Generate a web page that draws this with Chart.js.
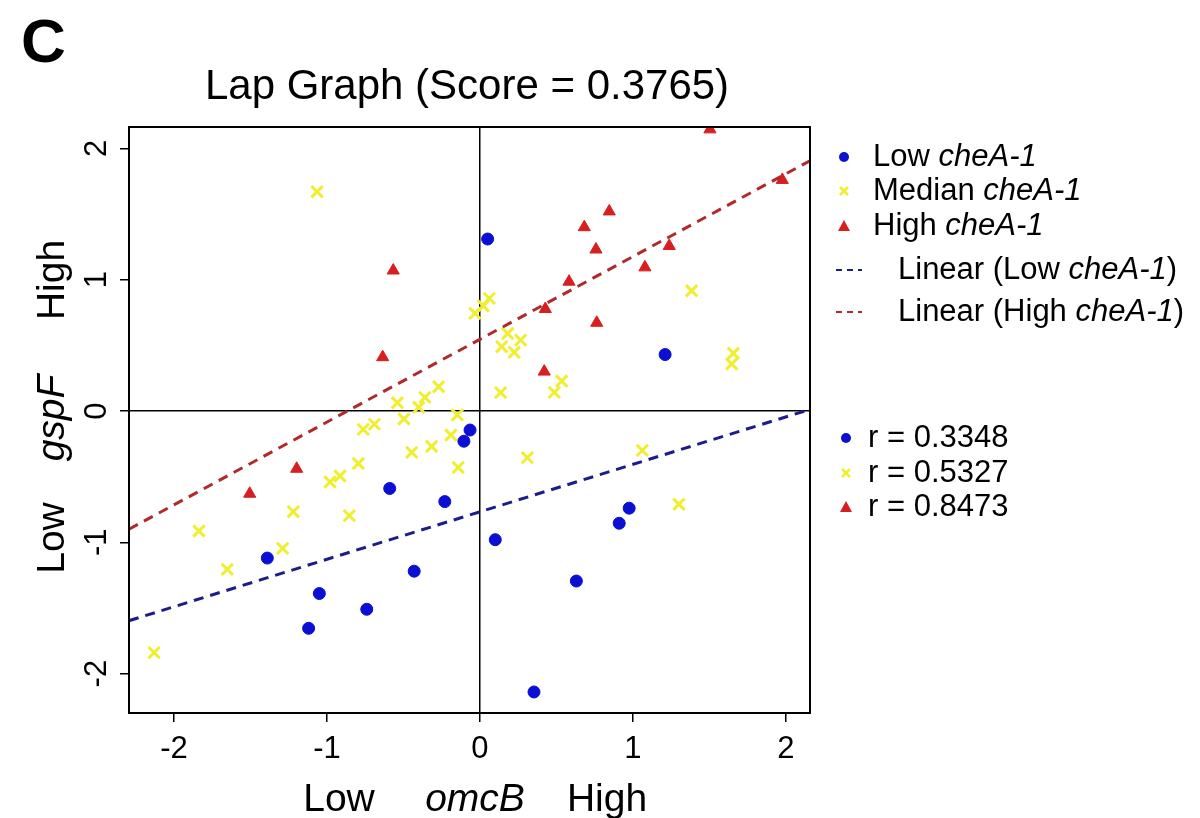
<!DOCTYPE html>
<html>
<head>
<meta charset="utf-8">
<script src="https://cdn.jsdelivr.net/npm/chart.js@4.4.1/dist/chart.umd.min.js"></script>
<style>
  html, body { margin: 0; padding: 0; background: #fff; }
</style>
</head>
<body>
<canvas id="lapChart" width="1200" height="818"></canvas>
<script>
// values
const lowX = [0.05, 1.21, -0.065, -0.105, -0.59, -0.23, -1.39, -0.43, -1.05, -0.74, -1.12, 0.10, 0.63, 0.91, 0.975, 0.353];
const lowY = [1.31, 0.43, -0.145, -0.23, -0.59, -0.69, -1.12, -1.22, -1.39, -1.51, -1.655, -0.98, -1.295, -0.855, -0.74, -2.14];

const medX = [-1.065, -0.033, 0.022, 0.061, 1.383, 0.181, 0.266, 0.142, 0.224, 1.656, 1.645, 0.534, 0.135, 0.486,
  -0.27, -0.36, -0.54, -0.40, -0.148, -0.497, -0.69, -0.763, -0.19, -0.316, -0.446, -0.142, -0.795, -0.915, -0.98,
  -1.22, -0.854, -1.837, -1.29, -1.652, -2.13, 0.31, 1.061, 1.30];
const medY = [1.67, 0.744, 0.80, 0.858, 0.916, 0.59, 0.54, 0.49, 0.447, 0.44, 0.358, 0.228, 0.14, 0.142,
  0.185, 0.104, 0.063, 0.028, -0.03, -0.061, -0.10, -0.14, -0.183, -0.27, -0.315, -0.43, -0.40, -0.495, -0.54,
  -0.767, -0.797, -0.914, -1.046, -1.206, -1.84, -0.355, -0.30, -0.71];

const highX = [-0.567, -0.636, 1.503, 1.976, 0.845, 0.682, 0.758, 1.237, 1.078, 0.582, 0.427, 0.763, 0.42, -1.198, -1.505];
const highY = [1.07, 0.41, 2.145, 1.76, 1.52, 1.40, 1.23, 1.257, 1.094, 0.985, 0.777, 0.672, 0.30, -0.44, -0.63];

// trend line end points (left and right edge of the plot)
const lowFitX = [-2.294, 2.157];
const lowFitY = [-1.597, 0.012];
const highFitX = [-2.294, 2.157];
const highFitY = [-0.90, 1.906];

const xTicks = [-2, -1, 0, 1, 2];
const yTicks = [-2, -1, 0, 1, 2];
const rValues = ['0.3348', '0.5327', '0.8473'];

const BLUE = '#0a0fd2';
const YELLOW = '#f0ee2e';
const RED = '#d81e1e';
const BLUE_LINE = '#1c1c8a';
const RED_LINE = '#b02a2a';
const FONT = 'Arial, "Liberation Sans", sans-serif';

function toPoints(xs, ys) {
    return xs.map((x, i) => ({ x: x, y: ys[i] }));
}

// draws a row of text pieces, some of them italic
function drawPieces(ctx, pieces, x, y, size) {
    let cx = x;
    pieces.forEach(p => {
        ctx.font = (p.italic ? 'italic ' : '') + size + 'px ' + FONT;
        ctx.fillText(p.text, cx, y);
        cx += ctx.measureText(p.text).width;
    });
}

function drawMarker(ctx, kind, x, y) {
    ctx.save();
    if (kind === 'circle') {
        ctx.fillStyle = BLUE;
        ctx.beginPath();
        ctx.arc(x, y, 5, 0, Math.PI * 2);
        ctx.fill();
    } else if (kind === 'cross') {
        ctx.strokeStyle = YELLOW;
        ctx.lineWidth = 2.5;
        ctx.beginPath();
        ctx.moveTo(x - 4, y - 4); ctx.lineTo(x + 4, y + 4);
        ctx.moveTo(x + 4, y - 4); ctx.lineTo(x - 4, y + 4);
        ctx.stroke();
    } else if (kind === 'triangle') {
        ctx.fillStyle = RED;
        ctx.beginPath();
        ctx.moveTo(x, y - 6); ctx.lineTo(x + 6, y + 5); ctx.lineTo(x - 6, y + 5);
        ctx.closePath();
        ctx.fill();
    } else {
        ctx.strokeStyle = kind;
        ctx.lineWidth = 2;
        ctx.setLineDash([6, 5]);
        ctx.beginPath();
        ctx.moveTo(x - 8, y); ctx.lineTo(x + 18, y);
        ctx.stroke();
    }
    ctx.restore();
}

const decorPlugin = {
    id: 'decor',
    afterDraw(chart) {
        const ctx = chart.ctx;
        const area = chart.chartArea;
        const xs = chart.scales.x;
        const ys = chart.scales.y;
        ctx.save();
        // frame
        ctx.strokeStyle = '#000';
        ctx.lineWidth = 2;
        ctx.strokeRect(area.left, area.top, area.right - area.left, area.bottom - area.top);

        ctx.fillStyle = '#000';
        // x tick labels
        ctx.font = '31px ' + FONT;
        ctx.textAlign = 'center';
        ctx.textBaseline = 'alphabetic';
        xTicks.forEach(v => ctx.fillText(String(v), xs.getPixelForValue(v), area.bottom + 45));
        // y tick labels, rotated like R does
        ctx.textBaseline = 'middle';
        yTicks.forEach(v => {
            ctx.save();
            ctx.translate(area.left - 32, ys.getPixelForValue(v));
            ctx.rotate(-Math.PI / 2);
            ctx.fillText(String(v), 0, 0);
            ctx.restore();
        });

        // axis titles
        ctx.textBaseline = 'alphabetic';
        ctx.font = '39px ' + FONT;
        ctx.fillText('Low', 339, 811);
        ctx.fillText('High', 607, 811);
        ctx.font = 'italic 39px ' + FONT;
        ctx.fillText('omcB', 475, 811);
        ctx.save();
        ctx.translate(64, 0);
        ctx.rotate(-Math.PI / 2);
        ctx.font = '39px ' + FONT;
        ctx.fillText('High', -280, 0);
        ctx.fillText('Low', -538, 0);
        ctx.font = 'italic 39px ' + FONT;
        ctx.fillText('gspF', -418, 0);
        ctx.restore();

        // title and panel letter
        ctx.font = '42px ' + FONT;
        ctx.fillText('Lap Graph (Score = 0.3765)', 467, 99);
        ctx.font = 'bold 62px ' + FONT;
        ctx.textAlign = 'left';
        ctx.fillText('C', 21, 62);

        // legend
        const legendRows = [
            { mark: 'circle', y: 157, tx: 873, pieces: [{ text: 'Low ' }, { text: 'cheA-1', italic: true }] },
            { mark: 'cross', y: 191, tx: 873, pieces: [{ text: 'Median ' }, { text: 'cheA-1', italic: true }] },
            { mark: 'triangle', y: 226, tx: 873, pieces: [{ text: 'High ' }, { text: 'cheA-1', italic: true }] },
            { mark: BLUE_LINE, y: 270, tx: 898, pieces: [{ text: 'Linear (Low ' }, { text: 'cheA-1', italic: true }, { text: ')' }] },
            { mark: RED_LINE, y: 312, tx: 898, pieces: [{ text: 'Linear (High ' }, { text: 'cheA-1', italic: true }, { text: ')' }] }
        ];
        ctx.textAlign = 'left';
        ctx.textBaseline = 'middle';
        legendRows.forEach(r => {
            drawMarker(ctx, r.mark, 844, r.y);
            ctx.fillStyle = '#000';
            drawPieces(ctx, r.pieces, r.tx, r.y, 31);
        });

        // correlation legend
        const rMarks = ['circle', 'cross', 'triangle'];
        const rRows = [438, 473, 507];
        rValues.forEach((val, i) => {
            drawMarker(ctx, rMarks[i], 846, rRows[i]);
            ctx.fillStyle = '#000';
            drawPieces(ctx, [{ text: 'r = ' + val }], 868, rRows[i], 31);
        });
        ctx.restore();
    }
};

const axisGrid = {
    drawOnChartArea: true,
    drawTicks: true,
    tickLength: 9,
    lineWidth: 1.5,
    tickColor: '#000',
    color: c => (c.tick && c.tick.value === 0 ? '#000' : 'rgba(0,0,0,0)')
};

new Chart(document.getElementById('lapChart'), {
    type: 'scatter',
    data: {
        datasets: [
            {
                label: 'Linear (Low cheA-1)',
                type: 'line',
                data: toPoints(lowFitX, lowFitY),
                borderColor: BLUE_LINE,
                borderWidth: 3,
                borderDash: [10, 7],
                pointRadius: 0,
                fill: false
            },
            {
                label: 'Linear (High cheA-1)',
                type: 'line',
                data: toPoints(highFitX, highFitY),
                borderColor: RED_LINE,
                borderWidth: 3,
                borderDash: [10, 7],
                pointRadius: 0,
                fill: false
            },
            {
                label: 'Low cheA-1',
                data: toPoints(lowX, lowY),
                pointStyle: 'circle',
                pointRadius: 6,
                backgroundColor: BLUE,
                borderColor: BLUE,
                borderWidth: 1
            },
            {
                label: 'Median cheA-1',
                data: toPoints(medX, medY),
                pointStyle: 'crossRot',
                pointRadius: 8,
                borderColor: YELLOW,
                borderWidth: 3
            },
            {
                label: 'High cheA-1',
                data: toPoints(highX, highY),
                pointStyle: 'triangle',
                pointRadius: 7,
                backgroundColor: RED,
                borderColor: RED,
                borderWidth: 1
            }
        ]
    },
    options: {
        responsive: false,
        animation: false,
        layout: { padding: { left: 0, top: 127, right: 390, bottom: 0 } },
        plugins: {
            legend: { display: false },
            tooltip: { enabled: false }
        },
        scales: {
            x: {
                type: 'linear',
                min: -2.294,
                max: 2.157,
                ticks: { display: false, stepSize: 1, includeBounds: false },
                grid: axisGrid,
                border: { display: true, color: '#000', width: 2 },
                afterFit: s => { s.height = 105; }
            },
            y: {
                type: 'linear',
                min: -2.30,
                max: 2.163,
                ticks: { display: false, stepSize: 1, includeBounds: false },
                grid: axisGrid,
                border: { display: true, color: '#000', width: 2 },
                afterFit: s => { s.width = 129; }
            }
        }
    },
    plugins: [decorPlugin]
});
</script>
</body>
</html>
